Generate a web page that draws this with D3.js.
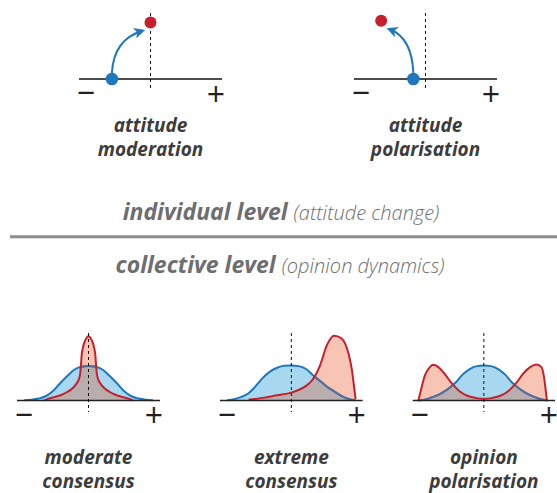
<!DOCTYPE html>
<meta charset="utf-8">
<html>
<head>
<style>
  body { margin: 0; background: #fff; }
  text { font-family: "Open Sans", "DejaVu Sans", sans-serif; }
  .label { font-weight: 700; font-style: italic; fill: #3c3c3c; font-size: 19px; }
  .sign { font-weight: 400; fill: #231f20; font-size: 32px; }
  .level { font-weight: 700; font-style: italic; fill: #6d6e71; font-size: 23px; }
  .level tspan.sub { font-weight: 300; font-size: 20px; }
</style>
</head>
<script src="https://d3js.org/d3.v7.min.js"></script>
<body>
<div id="vis"></div>
<script>
  // ---- data ----
  var topLabels = [["attitude", "moderation"], ["attitude", "polarisation"]];
  var startOpinion = [-0.54, -0.17];   // blue dot, on the axis
  var endOpinion = [0, -0.62];         // red dot
  var endHeight = [1, 1.03];

  var bottomLabels = [["moderate", "consensus"], ["extreme", "consensus"], ["opinion", "polarisation"]];

  // opinion (-1..1) vs density (0..1)
  var beforeModerate = [[-0.9,0.004],[-0.8,0.012],[-0.7,0.03],[-0.6,0.065],[-0.5,0.14],[-0.4,0.26],[-0.3,0.37],
    [-0.2,0.47],[-0.1,0.515],[0,0.525],[0.1,0.515],[0.2,0.47],[0.3,0.37],[0.4,0.26],[0.5,0.14],[0.6,0.065],
    [0.7,0.03],[0.8,0.012],[0.9,0.004]];
  var afterModerate = [[-0.62,0],[-0.57,0.025],[-0.45,0.06],[-0.36,0.095],[-0.3,0.13],[-0.22,0.19],[-0.16,0.27],
    [-0.13,0.34],[-0.115,0.42],[-0.105,0.55],[-0.095,0.7],[-0.08,0.8],[-0.06,0.88],[-0.03,0.95],[0,0.98],
    [0.03,0.95],[0.06,0.88],[0.08,0.8],[0.095,0.7],[0.105,0.55],[0.115,0.42],[0.13,0.34],[0.16,0.27],
    [0.22,0.19],[0.3,0.13],[0.36,0.095],[0.45,0.06],[0.57,0.025],[0.62,0]];

  var beforeExtreme = [[-0.9,0.005],[-0.8,0.02],[-0.7,0.055],[-0.6,0.11],[-0.5,0.22],[-0.4,0.345],[-0.3,0.44],
    [-0.2,0.5],[-0.1,0.53],[0,0.535],[0.1,0.525],[0.2,0.485],[0.3,0.39],[0.4,0.3],[0.5,0.21],[0.6,0.14],
    [0.7,0.07],[0.8,0.025],[0.9,0.005]];
  var afterExtreme = [[-0.6,0.01],[-0.4,0.04],[-0.2,0.08],[0,0.12],[0.1,0.16],[0.2,0.22],[0.3,0.32],[0.4,0.53],
    [0.5,0.85],[0.6,0.99],[0.7,0.95],[0.8,0.72],[0.85,0.46],[0.88,0.2],[0.9,0.02]];

  var beforePolar = [[-0.93,0],[-0.8,0.02],[-0.7,0.06],[-0.6,0.11],[-0.5,0.18],[-0.4,0.27],[-0.3,0.395],
    [-0.2,0.48],[-0.1,0.525],[0,0.535],[0.1,0.525],[0.2,0.48],[0.3,0.395],[0.4,0.27],[0.5,0.18],[0.6,0.11],
    [0.7,0.06],[0.8,0.02],[0.9,0]];
  var afterPolar = [[-0.92,0],[-0.875,0.2],[-0.83,0.38],[-0.78,0.48],[-0.71,0.545],[-0.64,0.51],[-0.56,0.42],
    [-0.45,0.26],[-0.35,0.15],[-0.24,0.076],[-0.12,0.04],[0,0.026],[0.12,0.04],[0.24,0.076],[0.35,0.15],
    [0.45,0.26],[0.56,0.42],[0.65,0.51],[0.74,0.55],[0.81,0.51],[0.845,0.36],[0.87,0.15],[0.885,0]];

  var beforeDist = [beforeModerate, beforeExtreme, beforePolar];
  var afterDist = [afterModerate, afterExtreme, afterPolar];

  // ---- layout ----
  var W = 557, H = 493;
  var topAxes = [[79, 222], [354, 497]], topY = 79, topPeak = 22.5;
  var botAxes = [[17, 160], [220, 362.7], [412.7, 555]], botY = 400.5, botPeak = 335;

  var blue = "#1f77bd", blueFill = "#a8d8f0", red = "#c5202e", redFill = "#f8c5b4";
  var mixFill = "#b9adad", mixBlue = "#5b6f9b";

  var svg = d3.select("#vis").append("svg")
    .attr("width", W).attr("height", H);
  var defs = svg.append("defs");

  defs.append("marker")
    .attr("id", "head")
    .attr("viewBox", "0 -5 10 10")
    .attr("refX", 7).attr("refY", 0)
    .attr("markerUnits", "userSpaceOnUse")
    .attr("markerWidth", 11).attr("markerHeight", 11)
    .attr("orient", "auto")
    .append("path").attr("d", "M0,-5L10,0L0,5L2.5,0Z").attr("fill", blue);

  function signs(g, x, y) {
    g.append("text").attr("class", "sign").attr("text-anchor", "middle")
      .attr("x", x(-1) + 7).attr("y", y + 25).text("−");
    g.append("text").attr("class", "sign").attr("text-anchor", "middle")
      .attr("x", x(1) - 6).attr("y", y + 26.5).text("+");
  }

  function twoLines(g, cx, y0, lines) {
    g.selectAll("text.label").data(lines).enter().append("text")
      .attr("class", "label").attr("text-anchor", "middle")
      .attr("x", cx).attr("y", function(d, i) { return y0 + i * 24; })
      .text(function(d) { return d; });
  }

  // ---- individual level panels ----
  topAxes.forEach(function(r, i) {
    var x = d3.scaleLinear().domain([-1, 1]).range(r);
    var y = d3.scaleLinear().domain([0, 1]).range([topY, topPeak]);
    var g = svg.append("g");

    g.append("line").attr("x1", x(-1)).attr("x2", x(1)).attr("y1", y(0)).attr("y2", y(0))
      .attr("stroke", "#111").attr("stroke-width", 1.4);
    g.append("line").attr("x1", x(0)).attr("x2", x(0)).attr("y1", 13).attr("y2", 91)
      .attr("stroke", "#111").attr("stroke-width", 1).attr("stroke-dasharray", "3,3");

    var bx = x(startOpinion[i]), by = y(0);
    var rx = x(endOpinion[i]), ry = y(endHeight[i]);
    var dir = rx > bx ? 1 : -1;
    var tx = rx - 8.5 * dir, ty = ry + 8.5;
    var cx = bx + 0.06 * (tx - bx), cy = ty + 8.5;
    g.append("path")
      .attr("d", "M" + bx + "," + (by - 6) + "Q" + cx + "," + cy + " " + tx + "," + ty)
      .attr("fill", "none").attr("stroke", blue).attr("stroke-width", 2)
      .attr("marker-end", "url(#head)");

    g.append("circle").attr("cx", bx).attr("cy", by).attr("r", 6.3).attr("fill", blue);
    g.append("circle").attr("cx", rx).attr("cy", ry).attr("r", 6).attr("fill", red);

    signs(g, x, topY);
    twoLines(g, x(0), 132, topLabels[i]);
  });

  // ---- divider ----
  svg.append("text").attr("class", "level").attr("text-anchor", "middle")
    .attr("x", 281).attr("y", 220)
    .call(function(t) {
      t.append("tspan").text("individual level ");
      t.append("tspan").attr("class", "sub").text("(attitude change)");
    });
  svg.append("line").attr("x1", 10).attr("x2", W).attr("y1", 236.7).attr("y2", 236.7)
    .attr("stroke", "#8c8c8c").attr("stroke-width", 3);
  svg.append("text").attr("class", "level").attr("text-anchor", "middle")
    .attr("x", 280).attr("y", 273)
    .call(function(t) {
      t.append("tspan").text("collective level ");
      t.append("tspan").attr("class", "sub").text("(opinion dynamics)");
    });

  // ---- collective level panels ----
  botAxes.forEach(function(r, i) {
    var x = d3.scaleLinear().domain([-1, 1]).range(r);
    var y = d3.scaleLinear().domain([0, 1]).range([botY, botPeak]);
    var g = svg.append("g");

    var area = d3.area().curve(d3.curveMonotoneX)
      .x(function(d) { return x(d[0]); }).y0(y(0)).y1(function(d) { return y(d[1]); });
    var line = d3.line().curve(d3.curveMonotoneX)
      .x(function(d) { return x(d[0]); }).y(function(d) { return y(d[1]); });

    var clipId = "after" + i;
    defs.append("clipPath").attr("id", clipId)
      .append("path").attr("d", area(afterDist[i]));

    g.append("path").attr("d", area(beforeDist[i])).attr("fill", blueFill);
    g.append("path").attr("d", area(afterDist[i])).attr("fill", redFill);
    // overlap of the two distributions
    g.append("path").attr("d", area(beforeDist[i])).attr("fill", mixFill)
      .attr("clip-path", "url(#" + clipId + ")");
    g.append("path").attr("d", line(beforeDist[i])).attr("fill", "none")
      .attr("stroke", blue).attr("stroke-width", 2);
    g.append("path").attr("d", line(beforeDist[i])).attr("fill", "none")
      .attr("stroke", mixBlue).attr("stroke-width", 2)
      .attr("clip-path", "url(#" + clipId + ")");
    g.append("path").attr("d", line(afterDist[i])).attr("fill", "none")
      .attr("stroke", red).attr("stroke-width", 2);

    g.append("line").attr("x1", x(-1)).attr("x2", x(1)).attr("y1", y(0)).attr("y2", y(0))
      .attr("stroke", "#222").attr("stroke-width", 1.4);
    g.append("line").attr("x1", x(0)).attr("x2", x(0)).attr("y1", 333).attr("y2", 412)
      .attr("stroke", "#111").attr("stroke-width", 1).attr("stroke-dasharray", "3,3");

    signs(g, x, botY);
    twoLines(g, x(0), 463.5, bottomLabels[i]);
  });
</script>
</body>
</html>
